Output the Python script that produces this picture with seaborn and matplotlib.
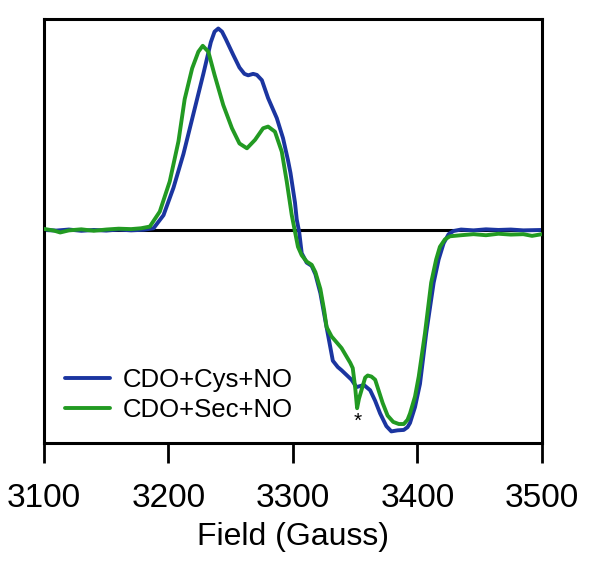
import numpy as np
import pandas as pd
import matplotlib
matplotlib.use("Agg")
import matplotlib.pyplot as plt
import seaborn as sns

# EPR spectra (field in Gauss, normalised derivative signal)
cys_field = [3100, 3110, 3120, 3130, 3140, 3150, 3160, 3170, 3180, 3188, 3196, 3204, 3212,
             3220, 3228, 3234, 3237, 3240, 3243, 3246, 3252, 3257, 3261, 3264, 3268, 3271,
             3275, 3280, 3287, 3292, 3296, 3298, 3301.6, 3303, 3305, 3307, 3311, 3315, 3318,
             3322, 3326, 3332, 3336, 3339, 3347, 3351, 3354, 3357, 3362, 3366, 3370, 3375,
             3379, 3384, 3389, 3392, 3394, 3398, 3402, 3407, 3413, 3417, 3421, 3425, 3429,
             3435, 3445, 3455, 3465, 3475, 3485, 3500]
cys_signal = [0.000, -0.003, 0.002, -0.004, 0.000, -0.003, 0.002, -0.002, 0.001, 0.008, 0.070,
              0.200, 0.360, 0.550, 0.740, 0.890, 0.940, 0.955, 0.940, 0.905, 0.830, 0.770,
              0.740, 0.733, 0.740, 0.735, 0.710, 0.625, 0.530, 0.435, 0.330, 0.270, 0.130,
              0.050, -0.010, -0.110, -0.155, -0.170, -0.210, -0.300, -0.430, -0.620, -0.650,
              -0.665, -0.710, -0.745, -0.740, -0.735, -0.760, -0.810, -0.870, -0.930, -0.955,
              -0.950, -0.948, -0.935, -0.915, -0.840, -0.730, -0.490, -0.250, -0.140, -0.063,
              -0.020, -0.005, 0.002, -0.002, 0.003, 0.000, 0.002, -0.002, 0.000]

sec_field = [3100, 3108, 3113, 3120, 3130, 3140, 3150, 3160, 3170, 3178, 3185, 3193, 3201,
             3208, 3213, 3219, 3224, 3227.5, 3232, 3237, 3244, 3251, 3257, 3263, 3269.5, 3276,
             3280, 3285.5, 3291, 3295, 3299, 3301.6, 3304, 3307, 3311, 3315, 3318, 3322, 3325,
             3327, 3331, 3339, 3346, 3348, 3350, 3351.5, 3353, 3355, 3358, 3360, 3363, 3366,
             3372, 3376, 3380.5, 3385, 3389, 3392, 3394, 3398, 3401, 3406, 3411, 3415, 3418,
             3422, 3426, 3435, 3445, 3455, 3465, 3475, 3485, 3492, 3500]
sec_signal = [0.005, -0.003, -0.012, -0.002, 0.003, -0.004, 0.002, 0.006, 0.004, 0.008, 0.016,
              0.087, 0.230, 0.420, 0.620, 0.766, 0.845, 0.873, 0.845, 0.735, 0.592, 0.482,
              0.410, 0.387, 0.427, 0.482, 0.490, 0.466, 0.371, 0.229, 0.071, -0.008, -0.080,
              -0.120, -0.150, -0.165, -0.200, -0.280, -0.380, -0.460, -0.505, -0.560, -0.630,
              -0.655, -0.750, -0.845, -0.800, -0.760, -0.700, -0.690, -0.695, -0.710, -0.820,
              -0.880, -0.910, -0.920, -0.920, -0.900, -0.870, -0.790, -0.695, -0.490, -0.250,
              -0.140, -0.080, -0.045, -0.030, -0.025, -0.020, -0.025, -0.018, -0.022, -0.020,
              -0.028, -0.020]

labels = ["CDO+Cys+NO", "CDO+Sec+NO"]
x_ticks = [3100, 3200, 3300, 3400, 3500]
star_pos = (3352, -0.905)

sns.set_theme(style="white", rc={
    'xtick.bottom': True,
    'xtick.direction': 'out',
    'xtick.major.size': 14.5,
    'xtick.major.width': 2.0,
    'xtick.color': 'black',
    'axes.labelcolor': 'black',
    'text.color': 'black',
})
plt.rcParams['font.family'] = ['Liberation Sans', 'DejaVu Sans']

blue = '#1b35a0'
green = '#229a22'

fig = plt.figure(figsize=(6.01, 5.76), dpi=100)
ax = fig.add_axes([0.0732, 0.2309, 0.8286, 0.7361])

ax.axhline(0, color='black', lw=2.2, zorder=1)
sns.lineplot(x=cys_field, y=cys_signal, color=blue, lw=2.8, label=labels[0], ax=ax, zorder=2)
sns.lineplot(x=sec_field, y=sec_signal, color=green, lw=2.8, label=labels[1], ax=ax, zorder=3)

ax.text(star_pos[0], star_pos[1], '*', fontsize=15, ha='center', va='center')

ax.set_xlim(3100, 3500)
ax.set_ylim(-1.01, 1.0)
ax.set_xticks(x_ticks)
ax.set_yticks([])
ax.tick_params(axis='x', which='major', bottom=True, length=14.5, width=2.0, pad=14,
               labelsize=24, color='black', labelcolor='black')
ax.set_xlabel('Field (Gauss)', fontsize=23, labelpad=6)
ax.set_ylabel('')

for side in ['left', 'right', 'top', 'bottom']:
    ax.spines[side].set_visible(True)
    ax.spines[side].set_color('black')
    ax.spines[side].set_linewidth(2.2)

ax.legend(loc='upper left', bbox_to_anchor=(0.042, 0.178), frameon=False, fontsize=18.5,
          handlelength=1.75, handletextpad=0.5, labelspacing=0.25, borderpad=0,
          borderaxespad=0)

fig.savefig('out.png', dpi=100)
